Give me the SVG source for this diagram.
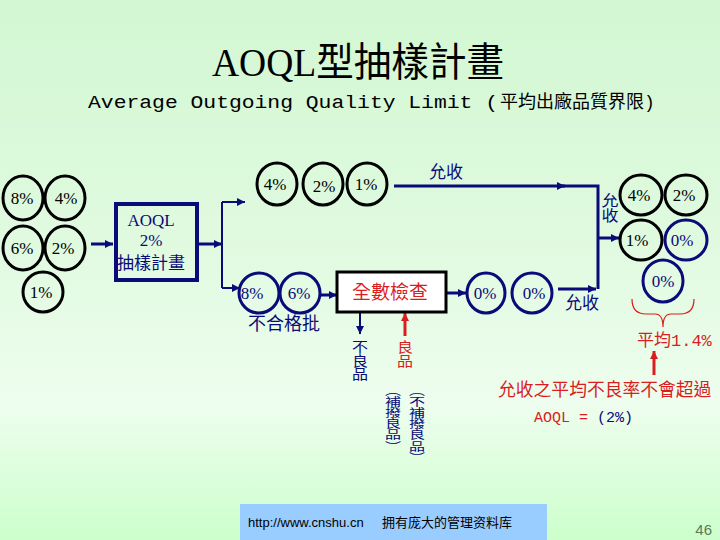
<svg xmlns="http://www.w3.org/2000/svg" width="720" height="540" viewBox="0 0 720 540">
<style>
.cb{fill:none;stroke:#000;stroke-width:3}
.cn{fill:none;stroke:#0a0a78;stroke-width:3}
.ct{font-family:"Liberation Serif","Noto Sans CJK TC",serif;font-size:17px;fill:#000;text-anchor:middle}
.ctn{fill:#0a0a78}
.nv{font-family:"Liberation Serif","Noto Sans CJK TC",serif;fill:#0a0a78}
.rd{fill:#d81e1e}
.ln{fill:none;stroke:#0a0a78;stroke-width:3}
.thin{stroke-width:2}
.vt{writing-mode:vertical-rl;font-family:"Noto Sans CJK TC",sans-serif;font-size:16px}
</style>
<defs>
<linearGradient id="bg" x1="0" y1="0" x2="0" y2="1">
<stop offset="0" stop-color="#d2f7d2"/>
<stop offset="0.45" stop-color="#e0fae0"/>
<stop offset="0.75" stop-color="#eefdee"/>
<stop offset="1" stop-color="#ccffcc"/>
</linearGradient>
<marker id="ah" markerUnits="userSpaceOnUse" markerWidth="9" markerHeight="9" refX="8" refY="4.5" orient="auto"><path d="M0,0.5 L8,4.5 L0,8.5 z" fill="#0a0a78"/></marker>
<marker id="ahr" markerUnits="userSpaceOnUse" markerWidth="9" markerHeight="9" refX="8" refY="4.5" orient="auto"><path d="M0,0.5 L8,4.5 L0,8.5 z" fill="#d81e1e"/></marker>
</defs>
<rect width="720" height="540" fill="url(#bg)"/>

<g id="title">
<text x="212" y="76" font-family="Liberation Serif,'Noto Sans CJK TC',serif" font-size="40" fill="#000" textLength="292" lengthAdjust="spacingAndGlyphs">AOQL型抽樣計畫</text>
<text y="108" font-family="'Liberation Mono','Noto Sans CJK TC',monospace" font-size="18" fill="#000"><tspan x="88" textLength="410" lengthAdjust="spacingAndGlyphs">Average Outgoing Quality Limit (</tspan><tspan x="500">平均出廠品質界限)</tspan></text>
</g>

<g id="connectors">
<path class="ln" d="M91,244 H113" marker-end="url(#ah)"/>
<path class="ln" d="M198,244 H222" stroke-width="4" marker-end="url(#ah)"/>
<path class="ln thin" d="M222,202 V288"/>
<path class="ln thin" d="M222,202 H245" marker-end="url(#ah)"/>
<path class="ln thin" d="M222,288 H240" marker-end="url(#ah)"/>
<path class="ln" d="M394,186 H565" marker-end="url(#ah)"/>
<path class="ln" d="M560,186 H598 V289"/>
<path class="ln" d="M598,238 H619" marker-end="url(#ah)"/>
<path class="ln" d="M321,295 H337" marker-end="url(#ah)"/>
<path class="ln" d="M446,293 H466" marker-end="url(#ah)"/>
<path class="ln" d="M558,289 H596" marker-end="url(#ah)"/>
<path class="ln thin" d="M360,312 V334" marker-end="url(#ah)"/>
<path fill="none" stroke="#d81e1e" stroke-width="3" d="M405,336 V313" marker-end="url(#ahr)"/>
<path fill="none" stroke="#d81e1e" stroke-width="3" d="M654,375 V351" marker-end="url(#ahr)"/>
<path fill="none" stroke="#d81e1e" stroke-width="1.2" d="M632,299 Q632,314 646,314 H655 Q663,314 663,327 Q663,314 671,314 H680 Q694,314 694,299"/>
</g>

<g id="lot-left">
<ellipse class="cb" cx="23" cy="198" rx="20" ry="22"/><text class="ct" x="22" y="204">8%</text>
<ellipse class="cb" cx="65" cy="198" rx="20" ry="22"/><text class="ct" x="66" y="204">4%</text>
<ellipse class="cb" cx="23" cy="248" rx="20" ry="22"/><text class="ct" x="22" y="254">6%</text>
<ellipse class="cb" cx="65" cy="248" rx="20" ry="22"/><text class="ct" x="63" y="254">2%</text>
<ellipse class="cb" cx="43" cy="292" rx="20" ry="20"/><text class="ct" x="41" y="298">1%</text>
</g>

<g id="plan">
<rect x="116" y="204" width="81" height="76" fill="none" stroke="#0a0a78" stroke-width="4"/>
<text class="nv" x="151" y="226" font-size="17" text-anchor="middle">AOQL</text>
<text class="nv" x="151" y="246" font-size="17" text-anchor="middle">2%</text>
<text class="nv" x="151" y="269" font-size="17" text-anchor="middle">抽樣計畫</text>
</g>

<g id="accepted-top">
<ellipse class="cb" cx="277" cy="184" rx="20" ry="21"/><text class="ct" x="275" y="190">4%</text>
<ellipse class="cb" cx="323" cy="184" rx="20" ry="21"/><text class="ct" x="324" y="192">2%</text>
<ellipse class="cb" cx="367" cy="184" rx="20" ry="21"/><text class="ct" x="366" y="190">1%</text>
<text class="nv" x="429" y="178" font-size="17">允收</text>
</g>

<g id="rejected">
<ellipse class="cn" cx="259" cy="293" rx="20" ry="20"/><text class="ct ctn" x="252" y="299">8%</text>
<ellipse class="cn" cx="300" cy="293" rx="20" ry="20"/><text class="ct ctn" x="299" y="299">6%</text>
<text class="nv" x="284" y="330" font-size="18" text-anchor="middle">不合格批</text>
</g>

<g id="inspection">
<rect x="337" y="272" width="109" height="40" fill="#fff" stroke="#000" stroke-width="3"/>
<text class="rd" x="390" y="299" font-family="'Noto Sans CJK TC',sans-serif" font-size="19" text-anchor="middle">全數檢查</text>
</g>

<g id="defectives">
<text class="vt" x="360" y="340" fill="#0a0a78" textLength="41" lengthAdjust="spacingAndGlyphs">不良品</text>
</g>
<g id="good">
<text class="vt" x="405" y="340" fill="#d81e1e" textLength="28" lengthAdjust="spacingAndGlyphs">良品</text>
</g>
<g id="replace">
<text class="vt" x="393" y="385" fill="#0a0a78" textLength="67" lengthAdjust="spacingAndGlyphs">（補撥良品）</text>
<text class="vt" x="417" y="385" fill="#0a0a78" textLength="78" lengthAdjust="spacingAndGlyphs">（不補撥良品）</text>
</g>

<g id="screened">
<ellipse class="cn" cx="486" cy="293" rx="19" ry="20"/><text class="ct ctn" x="485" y="299">0%</text>
<ellipse class="cn" cx="532" cy="293" rx="20" ry="20"/><text class="ct ctn" x="534" y="299">0%</text>
<text class="nv" x="565" y="309" font-size="17">允收</text>
</g>

<g id="accept-label">
<text class="vt" x="610" y="193" fill="#0a0a78" style="font-size:17px" textLength="30" lengthAdjust="spacingAndGlyphs">允收</text>
</g>

<g id="lot-right">
<ellipse class="cb" cx="641" cy="195" rx="21" ry="20"/><text class="ct" x="639" y="201">4%</text>
<ellipse class="cb" cx="686" cy="195" rx="21" ry="20"/><text class="ct" x="684" y="201">2%</text>
<ellipse class="cb" cx="641" cy="240" rx="21" ry="20"/><text class="ct" x="637" y="246">1%</text>
<ellipse class="cn" cx="686" cy="240" rx="21" ry="20"/><text class="ct ctn" x="682" y="246">0%</text>
<ellipse class="cn" cx="663" cy="281" rx="20" ry="21"/><text class="ct ctn" x="663" y="287">0%</text>
</g>

<g id="notes">
<text class="rd" x="637" y="346" font-family="'Liberation Mono','Noto Sans CJK TC',monospace" font-size="17">平均1.4%</text>
<text class="rd" x="498" y="396" font-family="'Noto Sans CJK TC',sans-serif" font-size="17.8">允收之平均不良率不會超過</text>
<text x="534" y="422" font-family="'Liberation Mono',monospace" font-size="15"><tspan fill="#d81e1e">AOQL = </tspan><tspan fill="#0a0a78">(2%)</tspan></text>
</g>

<g id="footer">
<rect x="240" y="504" width="307" height="36" fill="#99ccff"/>
<text y="527" font-family="'Liberation Sans','Noto Sans CJK SC',sans-serif" font-size="13" fill="#000"><tspan x="248">http://www.cnshu.cn</tspan><tspan x="382">拥有庞大的管理资料库</tspan></text>
<text x="712" y="535" font-family="'Liberation Sans',sans-serif" font-size="15" fill="#5a7a5a" text-anchor="end">46</text>
</g>
</svg>
